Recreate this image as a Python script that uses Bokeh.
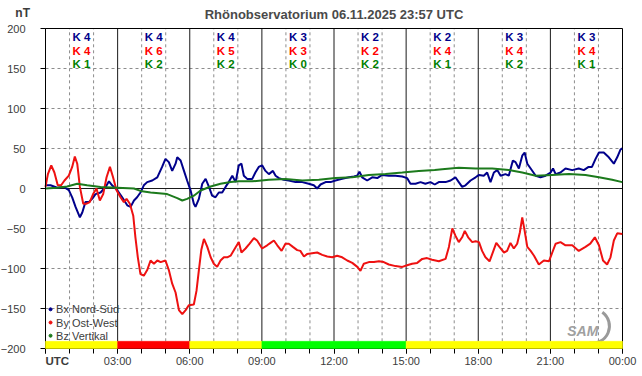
from bokeh.plotting import figure
from bokeh.models import FixedTicker, Range1d
from bokeh.core.properties import value
from bokeh.embed import file_html
from bokeh.resources import INLINE

# ---------------- data ----------------
title_text = "Rhönobservatorium 06.11.2025 23:57 UTC"
unit_text = "nT"
time_text = "UTC"

bx_t = [0, 0.21, 0.49, 0.76, 0.97, 1.11, 1.25, 1.43, 1.53, 1.66, 1.80, 1.94, 2.08, 2.29, 2.50, 2.64,
        2.77, 2.98, 3.19, 3.40, 3.54, 3.68, 3.81, 3.95, 4.09, 4.23, 4.44, 4.65, 4.85, 4.99, 5.13,
        5.27, 5.41, 5.48, 5.62, 5.76, 5.89, 6.03, 6.17, 6.24, 6.38, 6.52, 6.66, 6.80, 6.93, 7.07,
        7.21, 7.35, 7.49, 7.62, 7.77, 7.91, 8.04, 8.15, 8.25, 8.39, 8.60, 8.73, 8.87, 9.01, 9.15,
        9.29, 9.46, 9.57, 9.71, 9.91, 10.12, 10.40, 10.68, 10.95, 11.16, 11.30, 11.44, 11.65,
        11.86, 12.06, 12.34, 12.62, 12.83, 12.96, 13.06, 13.17, 13.38, 13.59, 13.80, 14.00,
        14.28, 14.56, 14.84, 15.04, 15.18, 15.39, 15.60, 15.80, 16.01, 16.19, 16.36, 16.64,
        16.85, 17.05, 17.19, 17.33, 17.47, 17.68, 17.89, 18.03, 18.23, 18.37, 18.51, 18.65,
        18.79, 18.93, 19.13, 19.27, 19.44, 19.55, 19.69, 19.83, 19.93, 20.04, 20.18, 20.39,
        20.59, 20.80, 21.01, 21.11, 21.22, 21.42, 21.63, 21.91, 22.18, 22.39, 22.59, 22.73,
        22.88, 23.02, 23.22, 23.43, 23.64, 23.78, 23.92, 23.99]
bx_v = [4, 4, 1, 2, -2, -11, -23, -36, -30, -17, -17, -13, -7, -5, 2, 9,
        4, -2, -11, -21, -23, -15, -11, -5, 4, 8, 10, 14, 27, 37, 33,
        22, 31, 39, 35, 22, 10, -2, -19, -23, -13, 6, 12, 2, -9, -11,
        -5, -5, 2, 8, 16, 8, 29, 31, 16, 12, 12, 20, 27, 29, 22,
        18, 22, 16, 13, 11, 10, 8, 8, 6, 4, 0, 5, 8,
        8, 10, 12, 14, 15, 16, 21, 14, 10, 14, 13, 17,
        16, 16, 15, 13, 6, 6, 8, 6, 8, 5, 8, 8,
        10, 14, 8, 2, 4, 10, 14, 17, 16, 20, 8, 20,
        23, 16, 18, 16, 35, 33, 25, 41, 45, 31, 25, 16,
        14, 16, 20, 25, 18, 20, 25, 23, 25, 23, 27, 27,
        37, 45, 45, 39, 31, 39, 49, 50]

by_t = [0, 0.10, 0.24, 0.37, 0.51, 0.65, 0.79, 0.97, 1.11, 1.22, 1.32, 1.43, 1.57, 1.71, 1.84,
        1.98, 2.12, 2.26, 2.40, 2.54, 2.68, 2.81, 2.95, 3.12, 3.26, 3.37, 3.51, 3.65, 3.74,
        3.84, 3.95, 4.09, 4.23, 4.37, 4.51, 4.65, 4.79, 4.99, 5.13, 5.27, 5.41, 5.55, 5.69,
        5.83, 5.96, 6.17, 6.28, 6.38, 6.48, 6.59, 6.73, 6.87, 7.00, 7.14, 7.28, 7.42, 7.56,
        7.70, 7.84, 8.04, 8.15, 8.32, 8.49, 8.67, 8.80, 9.01, 9.22, 9.36, 9.50, 9.64, 9.82,
        9.98, 10.12, 10.29, 10.47, 10.60, 10.75, 10.88, 11.09, 11.30, 11.51, 11.72, 11.93,
        12.13, 12.34, 12.55, 12.76, 12.97, 13.10, 13.24, 13.45, 13.66, 13.87, 14.07, 14.28,
        14.56, 14.84, 15.04, 15.25, 15.46, 15.67, 15.87, 16.08, 16.36, 16.64, 16.78, 16.92,
        17.05, 17.19, 17.33, 17.44, 17.58, 17.75, 17.89, 18.03, 18.16, 18.30, 18.47, 18.58,
        18.75, 18.88, 19.07, 19.20, 19.34, 19.48, 19.62, 19.73, 19.83, 19.93, 20.04, 20.18,
        20.32, 20.52, 20.73, 20.94, 21.08, 21.22, 21.42, 21.63, 21.91, 22.18, 22.46, 22.66,
        22.85, 23.02, 23.19, 23.36, 23.50, 23.64, 23.78, 23.99]
by_v = [2, 18, 29, 20, 4, 4, 10, 16, 27, 40, 31, 2, -19, -19, -17,
        -7, 0, -15, -7, 14, 27, 14, -2, -11, -17, -13, -19, -34, -61,
        -86, -107, -109, -102, -90, -94, -90, -92, -90, -102, -119, -130, -152, -157,
        -152, -146, -145, -128, -102, -77, -63, -73, -86, -94, -98, -90, -86, -86,
        -84, -77, -67, -80, -75, -69, -62, -65, -75, -71, -68, -65, -71, -78,
        -69, -69, -73, -77, -78, -85, -82, -81, -80, -83, -85, -86,
        -84, -86, -90, -93, -98, -103, -94, -92, -92, -91, -92, -95,
        -97, -98, -96, -94, -93, -88, -87, -89, -91, -88, -73, -50,
        -59, -67, -61, -53, -61, -67, -66, -67, -78, -86, -91, -82,
        -68, -73, -80, -78, -68, -75, -69, -55, -36, -53, -73, -78,
        -84, -95, -90, -91, -80, -69, -67, -71, -71, -78, -73, -69,
        -61, -71, -90, -95, -86, -65, -56, -57]

bz_t = [0, 0.49, 0.90, 1.32, 1.73, 2.29, 2.98, 3.68, 3.95, 4.37, 5.06, 5.48, 5.69, 5.89, 6.17,
        6.45, 6.87, 7.28, 7.70, 8.04, 8.60, 9.29, 9.98, 10.68, 11.37, 12.06, 12.76, 13.45,
        14.14, 14.84, 15.53, 16.19, 16.50, 17.19, 17.89, 18.58, 19.27, 19.83, 20.39, 21.08,
        21.77, 22.46, 23.02, 23.57, 23.99]
bz_v = [0, 1, 2.5, 6, 4, 2, 1, 0, -3, -5, -7, -12, -15, -13, -9,
        -2.5, 2.5, 6, 8, 9, 9, 11, 12, 10, 11, 13, 14, 17,
        18, 20, 22, 23, 24, 26, 25, 25, 23, 20, 16, 17,
        18, 17, 14, 11, 8]

k_bx = [4, 4, 4, 3, 2, 2, 3, 3]
k_by = [4, 6, 5, 3, 2, 4, 4, 4]
k_bz = [1, 2, 2, 0, 2, 1, 2, 1]
status_colors = ["#ffff00", "#ff0000", "#ffff00", "#00ff00", "#00ff00", "#ffff00", "#ffff00", "#ffff00"]

series_names = ["Bx Nord-Süd", "By Ost-West", "Bz Vertikal"]
hour_ticks = [0, 3, 6, 9, 12, 15, 18, 21, 24]
hour_labels = ["", "03:00", "06:00", "09:00", "12:00", "15:00", "18:00", "21:00", "00:00"]
y_ticks = [-200, -150, -100, -50, 0, 50, 100, 150, 200]

# ---------------- geometry / style ----------------
W, H = 642, 376
FL, FR, FT, FB = 45, 622, 28, 348          # plot box in pixels
T0, T1, V0, V1 = 0, 24, -200, 200          # plot box in data units
BAR_TOP = -191
sx = (T1 - T0) / (FR - FL)
sy = (V1 - V0) / (FB - FT)
x_range = Range1d(T0 - FL * sx, T1 + (W - FR) * sx)
y_range = Range1d(V0 - (H - FB) * sy, V1 + FT * sy)

FONT = "Liberation Sans"
C_BX = "#00008b"
C_BY = "#ee1111"
C_BZ = "#1c7a1c"
TXT = "#3c3c3c"
GRID = "#8c8c8c"

p = figure(width=W, height=H, x_range=x_range, y_range=y_range, title=None,
           output_backend="svg", toolbar_location=None,
           min_border=0, min_border_left=0, min_border_right=0,
           min_border_top=0, min_border_bottom=0)
p.background_fill_color = "white"
p.border_fill_color = "white"
p.outline_line_color = None
p.grid.visible = False

# axes fixed at the edges of the plot box
p.xaxis.fixed_location = V0
p.xaxis.bounds = (T0, T1)
p.yaxis.fixed_location = T0
p.yaxis.bounds = (V0, V1)
p.xaxis.ticker = FixedTicker(ticks=hour_ticks, minor_ticks=list(range(25)))
p.xaxis.major_label_overrides = {t: l for t, l in zip(hour_ticks, hour_labels)}
p.yaxis.ticker = FixedTicker(ticks=y_ticks)
for ax in (p.xaxis[0], p.yaxis[0]):
    ax.axis_line_color = "black"
    ax.major_tick_line_color = "black"
    ax.minor_tick_line_color = "black"
    ax.major_tick_in = 0
    ax.major_tick_out = 5
    ax.minor_tick_in = 0
    ax.minor_tick_out = 5
    ax.major_label_text_font = FONT
    ax.major_label_text_font_size = "11px"
    ax.major_label_text_color = TXT
p.xaxis.major_label_standoff = 1
p.yaxis.major_label_standoff = 15
p.yaxis.minor_tick_line_color = None

# dashed grid (stops at the status bar)
minor_hours = [h for h in range(T0 + 1, T1) if h % 3]
p.segment(x0=minor_hours, y0=BAR_TOP, x1=minor_hours, y1=V1, line_color=GRID, line_dash="3 3", line_width=1)
grid_vals = [v for v in y_ticks if v not in (V0, 0, V1)]
p.segment(x0=T0, y0=grid_vals, x1=T1, y1=grid_vals, line_color=GRID, line_dash="3 3", line_width=1)
# solid 3-hour lines and zero line
p.segment(x0=hour_ticks[1:-1], y0=BAR_TOP, x1=hour_ticks[1:-1], y1=V1, line_color="#1a1a1a", line_width=1)
p.segment(x0=[T0], y0=[0], x1=[T1], y1=[0], line_color="#1a1a1a", line_width=1)

# plot box
p.quad(left=[T0], right=[T1], bottom=[V0], top=[V1], fill_color=None, line_color="black", line_width=1)

# data lines
p.line(bx_t, bx_v, line_color=C_BX, line_width=2)
p.line(by_t, by_v, line_color=C_BY, line_width=2)
p.line(bz_t, bz_v, line_color=C_BZ, line_width=2)

# K indices
centers = [s + 1.5 for s in hour_ticks[:-1]]
for vals, col, yy in ((k_bx, C_BX, 190), (k_by, "#ff0000", 172.5), (k_bz, "#008000", 156)):
    p.text(x=centers, y=[yy] * len(centers), text=[f"K {k}" for k in vals],
           text_color=col, text_font=value(FONT), text_font_size="11.5px",
           text_font_style="bold", text_align="center", text_baseline="middle")

# legend
leg_y = [-151, -167.5, -184]
p.scatter([0.21] * 3, leg_y, size=3, color=[C_BX, C_BY, C_BZ])
p.text(x=[0.44] * 3, y=leg_y, text=series_names, text_color=TXT, text_font=value(FONT),
       text_font_size="11px", text_align="left", text_baseline="middle")

# SAM logo (approximation)
p.arc(x=[22.75], y=[-172], radius=17, radius_units="screen", start_angle=-1.75, end_angle=0.95,
      line_color="#9a9a9a", line_width=3)
p.text(x=[22.35], y=[-178], text=["SAM"], text_color="#a0a0a0", text_font=value(FONT),
       text_font_size="14px", text_font_style="bold italic", text_align="center",
       text_baseline="middle")

# title, unit, time zone
p.text(x=[(T0 + T1) / 2], y=[217], text=[title_text], text_color="#4a4a4a", text_font=value(FONT),
       text_font_size="13px", text_font_style="bold", text_align="center", text_baseline="middle")
p.text(x=[-0.95], y=[219], text=[unit_text], text_color=TXT, text_font=value(FONT),
       text_font_size="12px", text_font_style="bold", text_align="center", text_baseline="middle")
p.text(x=[T0], y=[-215], text=[time_text], text_color=TXT, text_font=value(FONT),
       text_font_size="11.5px", text_font_style="bold", text_align="left", text_baseline="middle")

# status bar at the bottom, one rectangle per 3-hour window, drawn on top of everything
for left, right, col in zip(hour_ticks[:-1], hour_ticks[1:], status_colors):
    r = p.quad(left=[left], right=[right], bottom=[V0], top=[BAR_TOP],
               fill_color=col, line_color=col, line_width=0.5)
    r.level = "overlay"

open("out.html", "w").write(file_html(p, INLINE))
